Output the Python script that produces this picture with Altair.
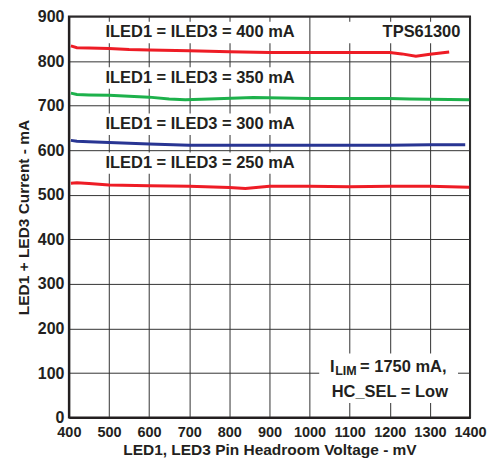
import altair as alt
import pandas as pd

FONT = "Liberation Sans"
TXT = "#231f20"

# curve data (headroom voltage mV, current mA)
x400 = [405, 420, 450, 500, 550, 600, 700, 800, 900, 1000, 1100, 1150, 1200, 1230, 1265, 1300, 1348]
y400 = [834, 830, 829, 828, 826, 825, 823, 821, 819, 819, 819, 819, 819, 816, 811, 815, 820]
x350 = [405, 420, 450, 500, 550, 600, 650, 690, 750, 860, 1000, 1100, 1200, 1250, 1300, 1398]
y350 = [728, 725, 724, 723, 721, 719, 715, 713, 715, 718, 716, 716, 716, 715, 714, 713]
x300 = [405, 420, 450, 500, 600, 700, 800, 900, 1000, 1100, 1200, 1300, 1388]
y300 = [622, 620, 619, 617, 614, 611, 611, 611, 611, 611, 611, 612, 612]
x250 = [405, 420, 450, 500, 600, 700, 800, 840, 900, 1000, 1100, 1200, 1300, 1398]
y250 = [526, 527, 525, 522, 520, 519, 516, 514, 519, 519, 518, 519, 519, 517]

series = ["400", "350", "300", "250"]
colors = ["#ee1c25", "#1db14b", "#283593", "#ee1c25"]

rows = []
for s, xs_, ys_ in zip(series, [x400, x350, x300, x250], [y400, y350, y300, y250]):
    for a, b in zip(xs_, ys_):
        rows.append({"s": s, "x": a, "y": b})
df = pd.DataFrame(rows)

# labels
lab_text = ["ILED1 = ILED3 = 400 mA", "ILED1 = ILED3 = 350 mA",
            "ILED1 = ILED3 = 300 mA", "ILED1 = ILED3 = 250 mA", "TPS61300"]
lab_x = [727, 727, 727, 727, 1279]
lab_y = [864, 762, 658, 571, 864]
labels = pd.DataFrame({"t": lab_text, "x": lab_x, "y": lab_y})

box_x1 = [485, 485, 485, 485, 1080, 1024]
box_x2 = [969, 969, 969, 969, 1380, 1370]
box_y1 = [840, 738, 634, 547, 840, 33]
box_y2 = [888, 786, 682, 595, 888, 144]
boxes = pd.DataFrame({"x": box_x1, "x2": box_x2, "y": box_y1, "y2": box_y2})

xs = alt.Scale(domain=[400, 1400], nice=False, zero=False)
ys = alt.Scale(domain=[0, 900], nice=False)

xax = alt.Axis(values=list(range(400, 1401, 100)), format="d",
               title="LED1, LED3 Pin Headroom Voltage - mV",
               grid=True, gridColor="#333333", gridWidth=1, ticks=False, labelPadding=8,
               labelOverlap=False,
               labelFont=FONT, labelFontSize=14.5, labelFontWeight="bold", labelColor=TXT,
               titleFont=FONT, titleFontSize=15.5, titleFontWeight="bold", titleColor=TXT,
               domainColor="#231f20", domainWidth=2, labelFlush=False, titlePadding=3)
yax = alt.Axis(values=list(range(0, 901, 100)), format="d", title="LED1 + LED3 Current - mA",
               grid=True, gridColor="#333333", gridWidth=1, ticks=False, labelPadding=5,
               labelOverlap=False,
               labelFont=FONT, labelFontSize=16, labelFontWeight="bold", labelColor=TXT,
               titleFont=FONT, titleFontSize=15.5, titleFontWeight="bold", titleColor=TXT,
               domainColor="#231f20", domainWidth=2, labelFlush=False, titlePadding=6)

base_lines = alt.Chart(df).mark_line(strokeWidth=3, clip=True).encode(
    x=alt.X("x:Q", scale=xs, axis=xax),
    y=alt.Y("y:Q", scale=ys, axis=yax),
    color=alt.Color("s:N", scale=alt.Scale(domain=series, range=colors), legend=None),
    detail="s:N",
)

rects = alt.Chart(boxes).mark_rect(color="white").encode(
    x=alt.X("x:Q", scale=xs), x2="x2:Q", y=alt.Y("y:Q", scale=ys), y2="y2:Q"
)

txt = alt.Chart(labels).mark_text(font=FONT, fontSize=16.5, fontWeight="bold", color=TXT,
                                  baseline="middle", align="center").encode(
    x=alt.X("x:Q", scale=xs), y=alt.Y("y:Q", scale=ys), text="t:N"
)

ilim_t = ["I", "LIM", "= 1750 mA,", "HC_SEL = Low"]
ilim_x = [1051, 1064, 1126, 1200]
ilim_y = [113, 104, 113, 58]
ilim_size = [16.5, 12.5, 16.5, 16.5]
ilim_align = ["left", "left", "left", "center"]
ilim = pd.DataFrame({"t": ilim_t, "x": ilim_x, "y": ilim_y, "fs": ilim_size, "al": ilim_align})

ilim_left = alt.Chart(ilim[ilim.al == "left"]).mark_text(
    font=FONT, fontWeight="bold", color=TXT, baseline="middle", align="left").encode(
    x=alt.X("x:Q", scale=xs), y=alt.Y("y:Q", scale=ys), text="t:N",
    size=alt.Size("fs:Q", scale=None, legend=None))
ilim_center = alt.Chart(ilim[ilim.al == "center"]).mark_text(
    font=FONT, fontWeight="bold", color=TXT, baseline="middle", align="center").encode(
    x=alt.X("x:Q", scale=xs), y=alt.Y("y:Q", scale=ys), text="t:N",
    size=alt.Size("fs:Q", scale=None, legend=None))

chart = alt.layer(base_lines, rects, txt, ilim_left, ilim_center).properties(
    width=402, height=402, background="white",
    padding={"left": 8, "top": 0, "right": 0, "bottom": 0}
).configure_view(stroke="#231f20", strokeWidth=2)

chart.save("out.html", embed_options={"renderer": "svg", "actions": False})
